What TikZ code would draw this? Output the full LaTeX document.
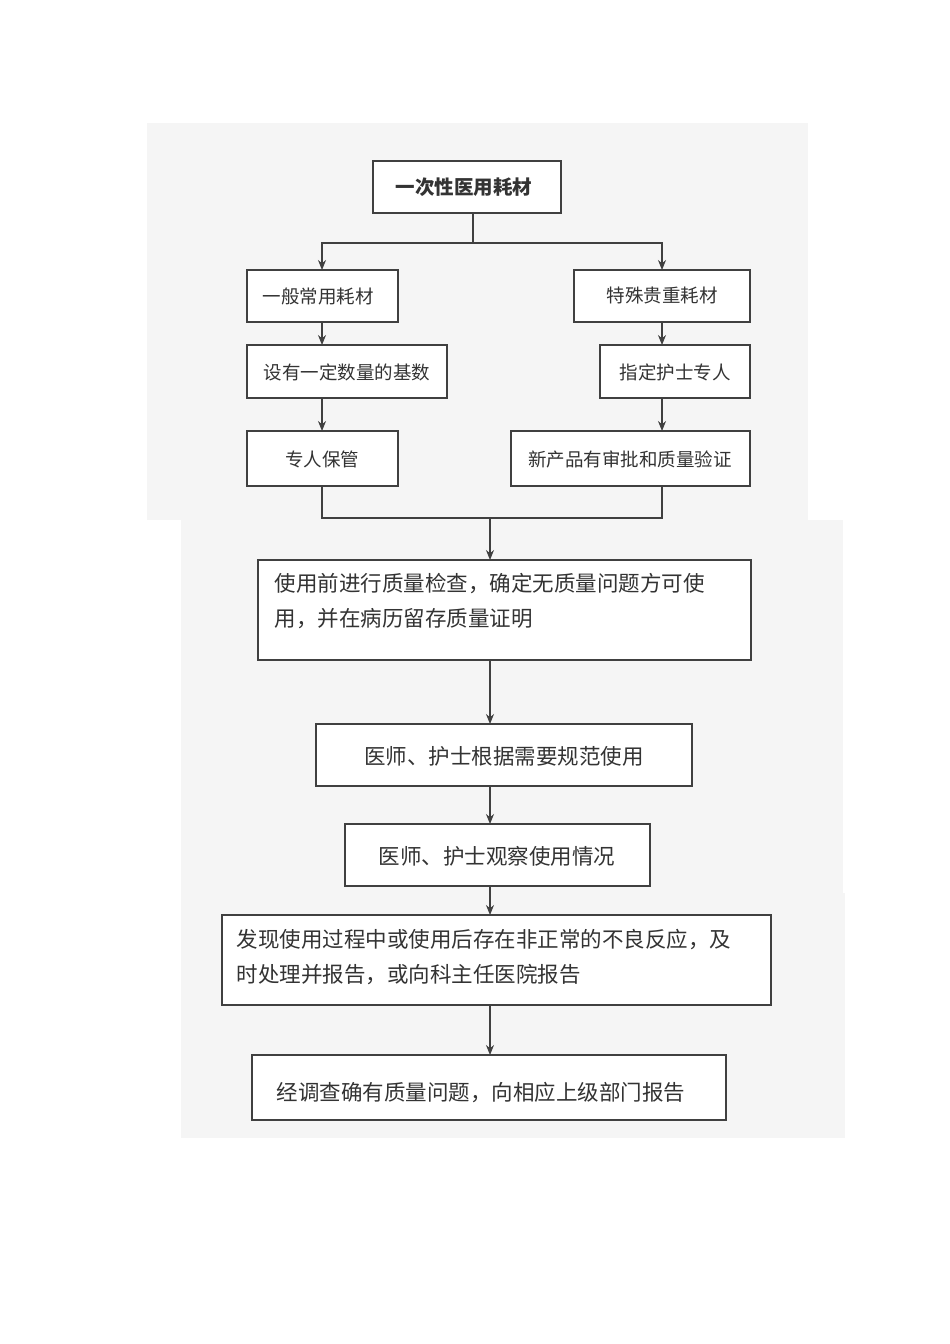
\documentclass[tikz,border=0pt]{standalone}
\usepackage{fontspec}
\setmainfont{Noto Sans CJK SC}
\usetikzlibrary{arrows.meta}
\begin{document}
\begin{tikzpicture}[x=1pt,y=-1pt,
  bx/.style={draw=black!75,line width=1.3pt,fill=white,inner sep=0pt},
  ln/.style={draw=black!75,line width=1.1pt},
  ar/.style={ln,-{Stealth[length=10pt,width=8pt]}},
  t/.style={font=\fontsize{18.5}{22}\selectfont,text=black!80},
  tb/.style={font=\fontsize{21.5}{35}\selectfont,text=black!80}]
\useasboundingbox (0,0) rectangle (950,1344);
\fill[white] (0,0) rectangle (950,1344);
\fill[black!4] (147,123) rectangle (808,520);
\fill[black!4] (181,520) rectangle (843,893);
\fill[black!4] (181,893) rectangle (845,1138);
% boxes
\path[bx] (373,161) rectangle (561,213); \node[t,font=\fontsize{19.5}{22}\selectfont\bfseries] (a) at (464,187) {一次性医用耗材};
\path[bx] (247,270) rectangle (398,322); \node[t] (b1) at (318,296) {一般常用耗材};
\path[bx] (574,270) rectangle (750,322); \node[t] (c1) at (662,296) {特殊贵重耗材};
\path[bx] (247,345) rectangle (447,398); \node[t] (b2) at (347,372) {设有一定数量的基数};
\path[bx] (600,345) rectangle (750,398); \node[t] (c2) at (675,372) {指定护士专人};
\path[bx] (247,431) rectangle (398,486); \node[t] (b3) at (322,459) {专人保管};
\path[bx] (511,431) rectangle (750,486); \node[t] (c3) at (630,459) {新产品有审批和质量验证};
\path[bx] (258,560) rectangle (751,660);
\node[tb,anchor=north west,align=left] (d) at (271,570) {使用前进行质量检查，确定无质量问题方可使\\用，并在病历留存质量证明};
\path[bx] (316,724) rectangle (692,786); \node[tb] (e) at (504,756) {医师、护士根据需要规范使用};
\path[bx] (345,824) rectangle (650,886); \node[tb] (f) at (497,856) {医师、护士观察使用情况};
\path[bx] (222,915) rectangle (771,1005);
\node[tb,anchor=north west,align=left] (g) at (233,926) {发现使用过程中或使用后存在非正常的不良反应，及\\时处理并报告，或向科主任医院报告};
\path[bx] (252,1055) rectangle (726,1120); \node[tb] (h) at (481,1093) {经调查确有质量问题，向相应上级部门报告};
% connectors
\coordinate (s) at (473,243);
\draw[ln] (473,213) -- (s);
\draw[ar] (s) -| (322,270);
\draw[ar] (s) -| (662,270);
\draw[ar] (322,322) -- (322,345);
\draw[ar] (322,398) -- (322,431);
\draw[ar] (662,322) -- (662,345);
\draw[ar] (662,398) -- (662,431);
\draw[ln] (322,486) |- (662,518) -- (662,486);
\draw[ar] (490,518) -- (490,560);
\draw[ar] (490,660) -- (490,724);
\draw[ar] (490,786) -- (490,824);
\draw[ar] (490,886) -- (490,915);
\draw[ar] (490,1005) -- (490,1055);
\end{tikzpicture}
\end{document}
